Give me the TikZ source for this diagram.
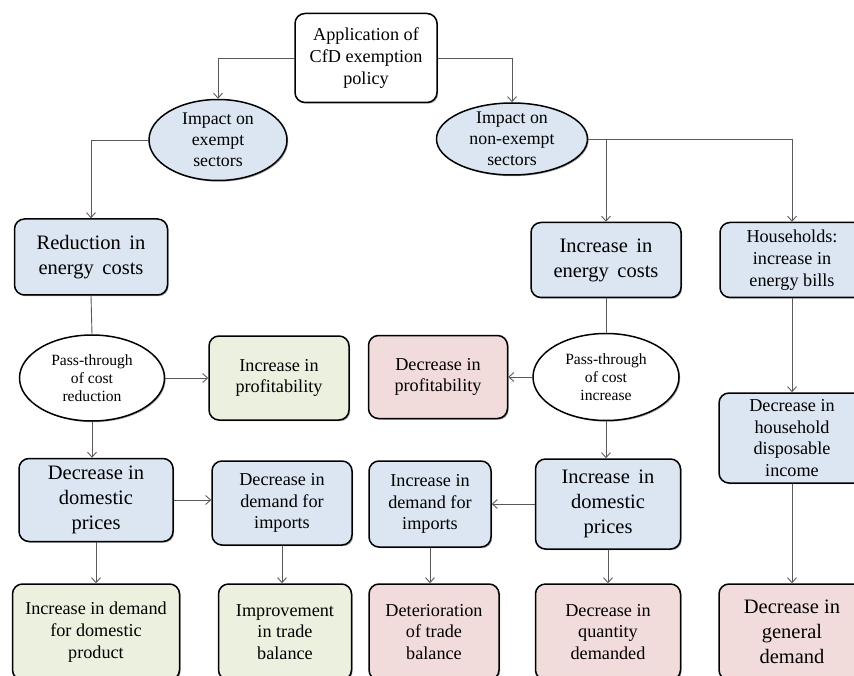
\documentclass[tikz,border=0pt]{standalone}
\usepackage{fontspec}
\setmainfont{Liberation Serif}
\newfontfamily\cfdserif{Liberation Serif}
\usetikzlibrary{shapes.geometric,arrows.meta,shadows}
\definecolor{cfdBlue}{HTML}{DCE6F2}
\definecolor{cfdGreen}{HTML}{EBF1DE}
\definecolor{cfdRed}{HTML}{F2DCDB}
\definecolor{cfdLine}{HTML}{595959}

\tikzset{
    box/.style={draw=black, line width=1.5pt, rounded corners=10pt, align=center,
        inner sep=2pt, font=\cfdserif\fontsize{18.2}{21.7}\selectfont,
        drop shadow={shadow xshift=1.2pt, shadow yshift=-1.2pt, fill=black, opacity=0.35}},
    big/.style={font=\cfdserif\fontsize{20.5}{25}\selectfont},
    oval/.style={ellipse, draw=black, line width=1.5pt, align=center,
        inner xsep=0pt, inner ysep=-6pt, font=\cfdserif\fontsize{17.8}{21}\selectfont,
        drop shadow={shadow xshift=1.2pt, shadow yshift=-1.2pt, fill=black, opacity=0.35}},
    small/.style={font=\cfdserif\fontsize{15.6}{18.3}\selectfont},
    link/.style={draw=cfdLine, line width=0.9pt},
    arr/.style={link, -{Straight Barb[length=5pt,width=9pt]}}
}

\begin{document}
\begin{tikzpicture}[x=1pt, y=-1pt]
    \useasboundingbox (0,0) rectangle (854,676);
    \clip (0,0) rectangle (854,676);

    % top of the tree
    \node[box, fill=white, minimum width=142pt, minimum height=89pt] (policy) at (366,58) {Application of\\CfD exemption\\policy};
    \node[oval, fill=cfdBlue, minimum width=138pt, minimum height=81pt] (exempt) at (218,140) {Impact on\\exempt\\sectors};
    \node[oval, fill=cfdBlue, minimum width=151pt, minimum height=72pt] (nonexempt) at (512,139) {Impact on\\non-exempt\\sectors};

    % second row
    \node[box, big, fill=cfdBlue, minimum width=153pt, minimum height=76pt] (redcost) at (91,257) {Reduction\, in\\energy\, costs};
    \node[box, big, fill=cfdBlue, minimum width=150pt, minimum height=75pt] (inccost) at (606,260) {Increase\, in\\energy\, costs};
    \node[box, fill=cfdBlue, minimum width=144pt, minimum height=75pt] (hhbills) at (792,260) {Households:\\increase in\\energy bills};

    % pass-through row
    \node[oval, small, fill=white, minimum width=145pt, minimum height=86pt] (passred) at (92,378) {Pass-through\\of cost\\reduction};
    \node[box, fill=cfdGreen, minimum width=140pt, minimum height=84pt] (incprof) at (279,378) {Increase in\\profitability};
    \node[box, fill=cfdRed, minimum width=139pt, minimum height=83pt] (decprof) at (438,377) {Decrease in\\profitability};
    \node[oval, small, fill=white, minimum width=146pt, minimum height=87pt] (passinc) at (606,377) {Pass-through\\of cost\\increase};
    \node[box, fill=cfdBlue, minimum width=146pt, minimum height=90pt] (hhincome) at (792,438) {Decrease in\\household\\disposable\\income};

    % prices and imports
    \node[box, big, fill=cfdBlue, minimum width=154pt, minimum height=83pt] (decprice) at (96,500) {Decrease in\\domestic\\prices};
    \node[box, fill=cfdBlue, minimum width=140pt, minimum height=84pt] (decimp) at (282,503) {Decrease in\\demand for\\imports};
    \node[box, fill=cfdBlue, minimum width=122pt, minimum height=86pt] (incimp) at (430,504) {Increase in\\demand for\\imports};
    \node[box, big, fill=cfdBlue, minimum width=145pt, minimum height=90pt] (incprice) at (608,504) {Increase\, in\\domestic\\prices};

    % outcomes
    \node[box, fill=cfdGreen, minimum width=167pt, minimum height=96pt] (incdom) at (96,632) {Increase in demand\\for domestic\\product};
    \node[box, fill=cfdGreen, minimum width=133pt, minimum height=96pt] (improve) at (285,632) {Improvement\\in trade\\balance};
    \node[box, fill=cfdRed, minimum width=130pt, minimum height=96pt] (deter) at (434,632) {Deterioration\\of trade\\balance};
    \node[box, fill=cfdRed, minimum width=145pt, minimum height=96pt] (decqty) at (608,632) {Decrease in\\quantity\\demanded};
    \node[box, big, fill=cfdRed, minimum width=146pt, minimum height=96pt] (decgen) at (792,632) {Decrease in\\general\\demand};

    % connectors
    \draw[arr] (policy.west) -| (exempt.north);
    \draw[arr] (policy.east) -| (nonexempt.north);
    \draw[arr] (exempt.west) -| (redcost.north);
    \draw[arr] (nonexempt.east) -| (inccost.north);
    \draw[arr] (nonexempt.east) -| (hhbills.north);
    \draw[link] (redcost.south) -- (passred.north);
    \draw[link] (inccost.south) -- (passinc.north);
    \draw[arr] (passred.east) -- (incprof.west);
    \draw[arr] (passinc.west) -- (decprof.east);
    \draw[arr] (passred.south) -- (passred.south |- decprice.north);
    \draw[arr] (passinc.south) -- (passinc.south |- incprice.north);
    \draw[arr] (hhbills.south) -- (hhincome.north);
    \draw[arr] (decprice.east) -- (decprice.east -| decimp.west);
    \draw[arr] (incprice.west) -- (incprice.west -| incimp.east);
    \draw[arr] (decprice.south) -- (decprice.south |- incdom.north);
    \draw[arr] (decimp.south) -- (decimp.south |- improve.north);
    \draw[arr] (incimp.south) -- (incimp.south |- deter.north);
    \draw[arr] (incprice.south) -- (incprice.south |- decqty.north);
    \draw[arr] (hhincome.south) -- (hhincome.south |- decgen.north);
\end{tikzpicture}
\end{document}
